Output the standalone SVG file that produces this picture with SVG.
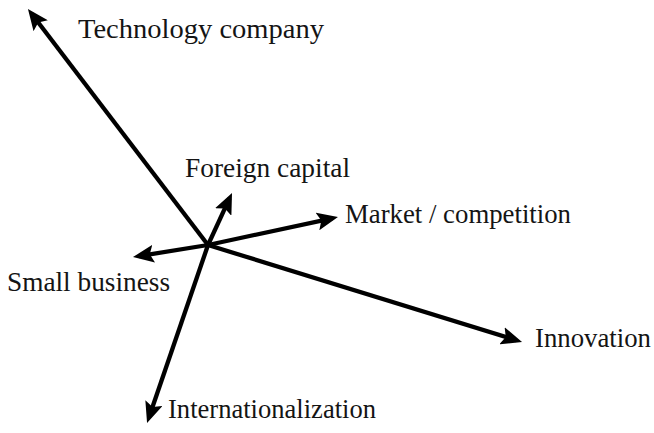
<svg xmlns="http://www.w3.org/2000/svg" width="654" height="433" viewBox="0 0 654 433">
<style>
.lbl{font-family:"Liberation Serif","Times New Roman",serif;font-size:27px;fill:#141414}
.ax{stroke:#000;stroke-width:4.3;fill:none;marker-end:url(#ah)}
</style>
<defs>
<marker id="ah" markerUnits="userSpaceOnUse" markerWidth="22" markerHeight="18" viewBox="0 0 22 18" refX="15" refY="9" orient="auto">
<path d="M0,0 L21,9 L0,18 L4,9 z" fill="#000"/>
</marker>
</defs>
<rect width="654" height="433" fill="#fff"/>
<g id="connectors">
<line class="ax" x1="208" y1="245" x2="31.6" y2="13.8"/>
<line class="ax" x1="208" y1="245" x2="229.5" y2="198.4"/>
<line class="ax" x1="208" y1="245" x2="332.1" y2="218.3"/>
<line class="ax" x1="208" y1="245" x2="138.9" y2="256.1"/>
<line class="ax" x1="208" y1="245" x2="516.3" y2="340.2"/>
<line class="ax" x1="208" y1="245" x2="149" y2="417.3"/>
</g>
<g id="tech"><text class="lbl" x="78" y="38" textLength="246" lengthAdjust="spacingAndGlyphs">Technology company</text></g>
<g id="foreign"><text class="lbl" x="185" y="177" textLength="165" lengthAdjust="spacingAndGlyphs">Foreign capital</text></g>
<g id="market"><text class="lbl" x="345" y="223" textLength="226" lengthAdjust="spacingAndGlyphs">Market / competition</text></g>
<g id="small"><text class="lbl" x="7" y="291" textLength="163" lengthAdjust="spacingAndGlyphs">Small business</text></g>
<g id="innovation"><text class="lbl" x="535" y="347" textLength="116" lengthAdjust="spacingAndGlyphs">Innovation</text></g>
<g id="intl"><text class="lbl" x="168" y="418" textLength="208" lengthAdjust="spacingAndGlyphs">Internationalization</text></g>
</svg>
